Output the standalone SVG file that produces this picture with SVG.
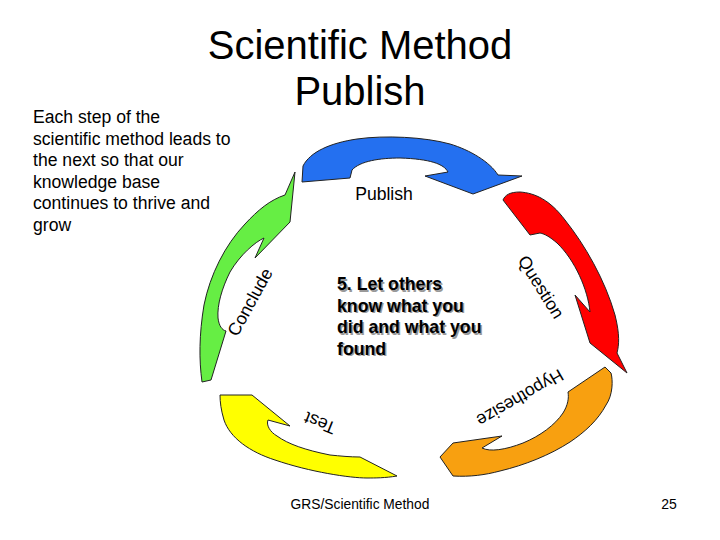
<svg xmlns="http://www.w3.org/2000/svg" width="720" height="540" viewBox="0 0 720 540">
<style>
.t{font-family:"Liberation Sans",Arial,sans-serif;fill:#000}
.arrow{stroke:#222;stroke-width:1;stroke-linejoin:round}
.lbl{font-family:"Liberation Sans",Arial,sans-serif;font-size:17.6px;fill:#000;text-anchor:middle}
.b{font-family:"Liberation Sans",Arial,sans-serif;font-size:17.7px;font-weight:bold}
</style>
<rect width="720" height="540" fill="#fff"/>
<g id="title">
<text class="t" x="360" y="59" font-size="40" text-anchor="middle">Scientific Method</text>
<text class="t" x="360" y="105" font-size="40" text-anchor="middle">Publish</text>
</g>
<g id="intro">
<text class="t" font-size="17.6" x="33" y="123">Each step of the</text>
<text class="t" font-size="17.6" x="33" y="144.6">scientific method leads to</text>
<text class="t" font-size="17.6" x="33" y="166.2">the next so that our</text>
<text class="t" font-size="17.6" x="33" y="187.8">knowledge base</text>
<text class="t" font-size="17.6" x="33" y="209.4">continues to thrive and</text>
<text class="t" font-size="17.6" x="33" y="231">grow</text>
</g>
<g id="connectors">
<g id="publish">
<path class="arrow" fill="#2470F0" d="M302,182 L303,166 C310,152 330,143 357,139 C385,135 425,137 450,144 C470,150 490,162 498,175 L522,176 L473,194 L425,176 L448,172 C444,164 430,159 400,158 C380,158 360,161 352,170 L350,178 Z"/>
<text class="lbl" x="384" y="200">Publish</text>
</g>
<g id="question">
<path class="arrow" fill="#FF0000" d="M503,200 C505,195 510,192 520,192 C535,193 550,200 565,220 C585,245 605,280 615,315 C620,335 619,345 617,353 L627,373 L590,343 L575,295 L590,312 C588,290 575,260 557,243 C550,237 545,234 540,233 L530,235 Z"/>
<text class="lbl" transform="translate(541,287) rotate(58)" y="6">Question</text>
</g>
<g id="hypothesize">
<path class="arrow" fill="#F8A010" d="M605,367 L611,373 C613,380 613,395 606,405 C598,420 585,432 570,442 C550,455 525,465 500,471 C485,475 470,477 453,476 L440,457 L453,443 L502,436 L482,448 C490,452 505,450 523,443 C540,436 555,425 563,413 C568,405 569,398 568,392 Z"/>
<text class="lbl" transform="translate(520,398) rotate(150)" y="6">Hypothesize</text>
</g>
<g id="test">
<path class="arrow" fill="#FFFF00" d="M220,395 L252,395 L290,426 L268,420 C266,425 270,432 277,436 C288,444 305,450 330,455 C340,456 350,457 360,457 L397,476 C385,478 375,478 367,478 C350,478 310,472 275,460 C250,452 230,438 224,420 C221,410 220,402 220,395 Z"/>
<text class="lbl" transform="translate(320,423) rotate(202)" y="6">Test</text>
</g>
<g id="conclude">
<path class="arrow" fill="#66EE44" d="M295,172 L290,222 L255,258 L264,238 C255,242 240,255 230,272 C222,288 217,305 218,318 C219,326 222,330 226,331 L211,380 L202,382 C199,360 199,335 204,305 C210,275 225,245 245,224 C258,210 270,200 285,195 Z"/>
<text class="lbl" transform="translate(250,302) rotate(-61)" y="6">Conclude</text>
</g>
</g>
<g id="step5">
<g fill="#999" class="b">
<text x="338.5" y="291.5">5. Let others</text>
<text x="338.5" y="313">know what you</text>
<text x="338.5" y="334.5">did and what you</text>
<text x="338.5" y="356">found</text>
</g>
<g fill="#000" class="b">
<text x="337" y="290">5. Let others</text>
<text x="337" y="311.5">know what you</text>
<text x="337" y="333">did and what you</text>
<text x="337" y="354.5">found</text>
</g>
</g>
<g id="footer">
<text class="t" font-size="13.8" x="360" y="509" text-anchor="middle">GRS/Scientific Method</text>
<text class="t" font-size="14" x="669" y="509" text-anchor="middle">25</text>
</g>
</svg>
